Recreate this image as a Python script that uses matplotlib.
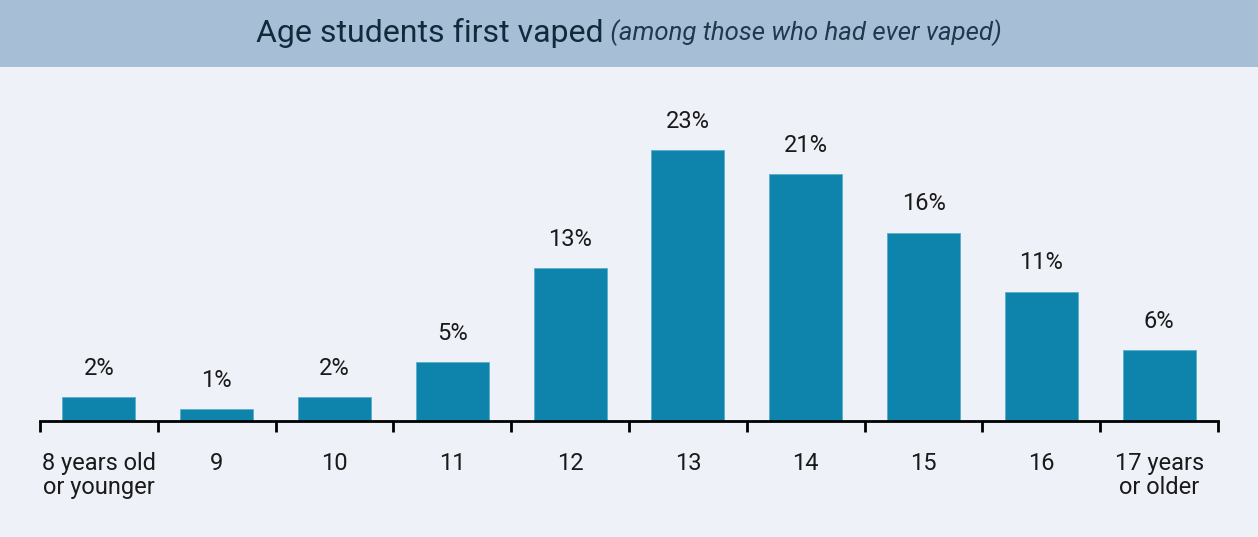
import numpy as np
import matplotlib.pyplot as plt
from matplotlib.patches import Rectangle

plt.rcParams['font.family'] = ['Roboto', 'DejaVu Sans']

# data
ages = ["8 years old\nor younger", "9", "10", "11", "12", "13", "14", "15", "16", "17 years\nor older"]
pct = [2, 1, 2, 5, 13, 23, 21, 16, 11, 6]

bg = "#eef1f8"
banner = "#a7bfd6"
bar_color = "#0e83ab"
text_color = "#1a1a1a"

fig = plt.figure(figsize=(12.58, 5.37), dpi=100, facecolor=bg)
fig.patches.append(Rectangle((0, 1 - 67 / 537), 1, 67 / 537, transform=fig.transFigure,
                             facecolor=banner, edgecolor="none", zorder=0))

ax = fig.add_axes([40 / 1258, 116 / 537, 1178 / 1258, 353 / 537])
ax.set_facecolor(bg)

x = np.arange(len(ages))
bars = ax.bar(x, pct, width=0.62, color=bar_color, edgecolor="#5aaecb", linewidth=0.6, zorder=2)

for xi, v in zip(x, pct):
    ax.text(xi, v + 2.45, f"{v}%", ha="center", va="center", fontsize=17, color=text_color)

ax.set_xlim(-0.5, len(ages) - 0.5)
ax.set_ylim(0, 30)
for s in ["top", "right", "left"]:
    ax.spines[s].set_visible(False)
ax.spines["bottom"].set_linewidth(2)
ax.spines["bottom"].set_color("black")
ax.set_yticks([])

ax.set_xticks(np.arange(len(ages) + 1) - 0.5)
ax.set_xticklabels([])
ax.tick_params(axis="x", which="major", length=8, width=2, color="black", direction="out")
ax.set_xticks(x, minor=True)
ax.set_xticklabels(ages, minor=True, fontsize=17, color=text_color, linespacing=1.1, va="top")
ax.tick_params(axis="x", which="minor", length=0, pad=22)

# title in banner: regular part + italic part centered together
t1 = fig.text(0, 0, "Age students first vaped", fontsize=23, color="#0f2b3c", va="center")
t2 = fig.text(0, 0, " (among those who had ever vaped)", fontsize=18.5, style="italic",
              color="#1e3a4c", va="center")
fig.canvas.draw()
r = fig.canvas.get_renderer()
w1 = t1.get_window_extent(r).width
w2 = t2.get_window_extent(r).width
x0 = (1258 - w1 - w2) / 2
yc = 1 - 33 / 537
t1.set_position((x0 / 1258, yc))
t2.set_position(((x0 + w1) / 1258, yc))

plt.savefig("out.png", dpi=100, facecolor=bg)
